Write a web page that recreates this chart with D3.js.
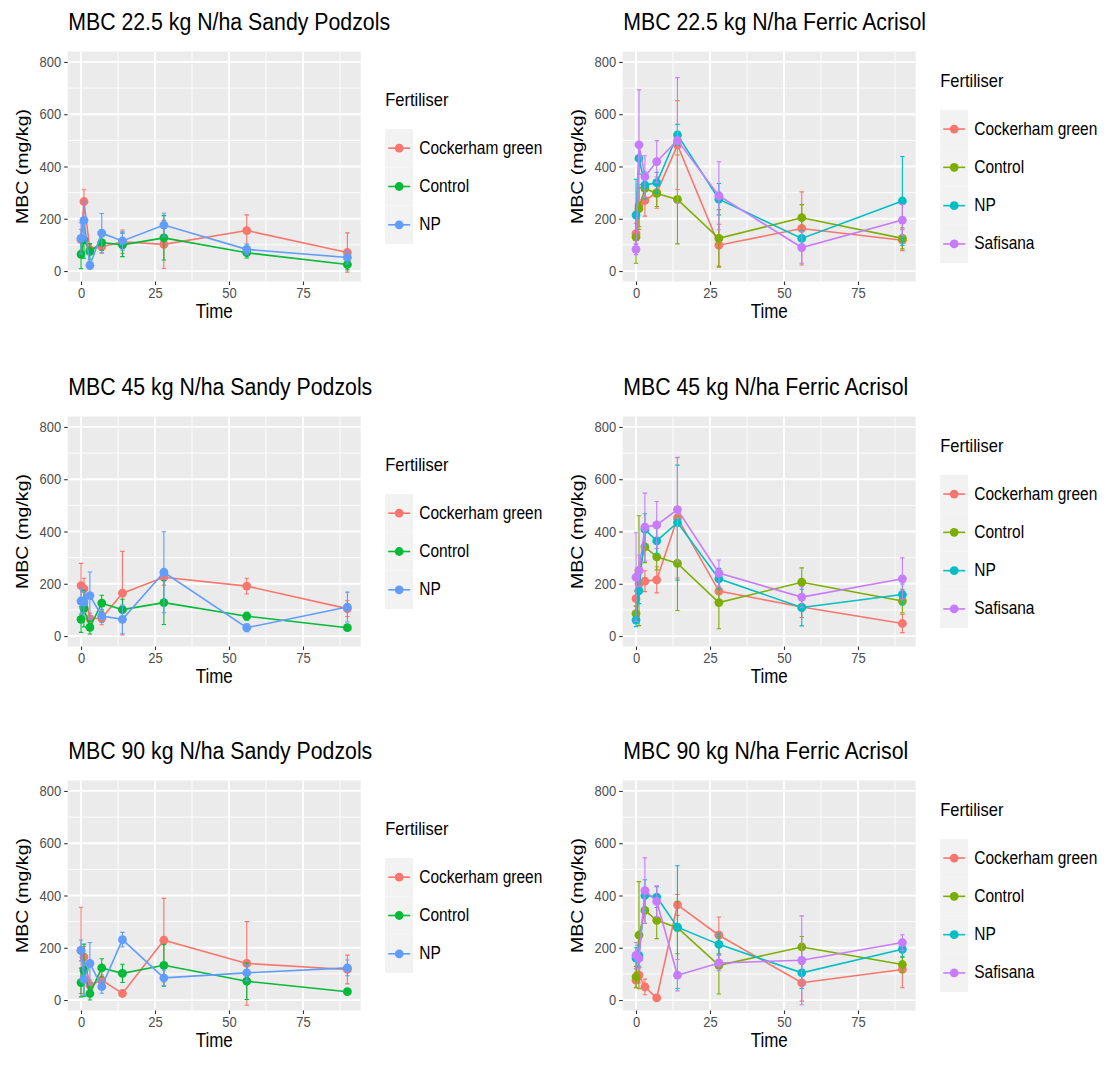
<!DOCTYPE html>
<html>
<head>
<meta charset="utf-8">
<script src="https://cdn.jsdelivr.net/npm/d3@7"></script>
<style>
  html, body { margin: 0; padding: 0; background: #ffffff; }
  svg { display: block; font-family: "Liberation Sans", Arial, sans-serif; }
</style>
</head>
<body>
<svg id="chart" width="1106" height="1075"></svg>
<script>
// Sampling days
const times = [0, 1, 3, 7, 14, 28, 56, 90];

// Fertiliser treatments per soil
const sandySeries = ["Cockerham green", "Control", "NP"];
const ferricSeries = ["Cockerham green", "Control", "NP", "Safisana"];
const sandyColours = ["#F8766D", "#00BA38", "#619CFF"];
const ferricColours = ["#F8766D", "#7CAE00", "#00BFC4", "#C77CFF"];

// Axis ticks
const yTicks = [0, 200, 400, 600, 800];
const xTicks = [0, 25, 50, 75];

// MBC means (mg/kg), one row per treatment, one value per sampling day
const sandy22Mean = [
  [120, 266, 83, 93, 112, 102, 155, 71],
  [64, 119, 75, 109, 100, 127, 70, 25],
  [125, 194, 22, 145, 115, 176, 83, 52]
];
const sandy22Err = [
  [40, 45, 20, 25, 45, 92, 60, 75],
  [55, 70, 30, 30, 45, 85, 20, 20],
  [60, 70, 15, 75, 35, 45, 20, 25]
];
const ferric22Mean = [
  [143, 250, 270, 300, 482, 99, 163, 118],
  [130, 239, 316, 297, 274, 125, 204, 125],
  [214, 431, 329, 338, 521, 275, 125, 268],
  [83, 483, 361, 419, 500, 288, 90, 195]
];
const ferric22Err = [
  [40, 80, 60, 60, 170, 80, 140, 40],
  [100, 80, 40, 50, 170, 110, 50, 40],
  [137, 60, 50, 40, 40, 60, 30, 170],
  [20, 210, 80, 80, 240, 130, 60, 60]
];
const sandy45Mean = [
  [193, 181, 67, 68, 164, 225, 191, 105],
  [64, 105, 33, 126, 101, 128, 76, 32],
  [134, 130, 155, 77, 64, 244, 32, 111]
];
const sandy45Err = [
  [85, 40, 20, 25, 160, 30, 30, 30],
  [50, 70, 25, 30, 40, 84, 15, 10],
  [50, 40, 90, 25, 55, 155, 15, 57]
];
const ferric45Mean = [
  [143, 200, 210, 215, 452, 172, 111, 48],
  [86, 250, 341, 303, 278, 128, 206, 134],
  [61, 174, 408, 364, 434, 219, 109, 159],
  [225, 250, 417, 425, 484, 241, 149, 219]
];
const ferric45Err = [
  [30, 40, 40, 50, 230, 50, 40, 35],
  [30, 210, 60, 50, 180, 100, 55, 45],
  [25, 50, 60, 50, 220, 40, 70, 40],
  [170, 60, 130, 90, 200, 50, 40, 80]
];
const sandy90Mean = [
  [190, 165, 57, 76, 25, 229, 140, 117],
  [67, 114, 25, 123, 102, 133, 72, 32],
  [190, 79, 140, 51, 231, 85, 104, 123]
];
const sandy90Err = [
  [165, 40, 20, 20, 10, 160, 160, 55],
  [55, 100, 25, 35, 35, 80, 70, 10],
  [40, 60, 80, 25, 28, 30, 30, 30]
];
const ferric90Mean = [
  [76, 95, 50, 8, 364, 248, 66, 117],
  [89, 248, 343, 305, 277, 133, 203, 136],
  [160, 170, 400, 394, 279, 213, 104, 194],
  [171, 159, 419, 377, 95, 142, 152, 220]
];
const ferric90Err = [
  [30, 30, 30, 10, 40, 70, 70, 70],
  [40, 205, 50, 70, 100, 110, 40, 30],
  [40, 40, 60, 40, 235, 40, 60, 30],
  [50, 40, 125, 60, 60, 30, 170, 30]
];

const titles = [
  "MBC 22.5 kg N/ha Sandy Podzols", "MBC 22.5 kg N/ha Ferric Acrisol",
  "MBC 45 kg N/ha Sandy Podzols", "MBC 45 kg N/ha Ferric Acrisol",
  "MBC 90 kg N/ha Sandy Podzols", "MBC 90 kg N/ha Ferric Acrisol"
];

// Panel table: row/column placement plus the data for each facet
const panels = [
  { row: 0, col: 0, title: titles[0], names: sandySeries, colours: sandyColours, mean: sandy22Mean, err: sandy22Err },
  { row: 0, col: 1, title: titles[1], names: ferricSeries, colours: ferricColours, mean: ferric22Mean, err: ferric22Err },
  { row: 1, col: 0, title: titles[2], names: sandySeries, colours: sandyColours, mean: sandy45Mean, err: sandy45Err },
  { row: 1, col: 1, title: titles[3], names: ferricSeries, colours: ferricColours, mean: ferric45Mean, err: ferric45Err },
  { row: 2, col: 0, title: titles[4], names: sandySeries, colours: sandyColours, mean: sandy90Mean, err: sandy90Err },
  { row: 2, col: 1, title: titles[5], names: ferricSeries, colours: ferricColours, mean: ferric90Mean, err: ferric90Err }
];

const svg = d3.select("#chart");
svg.append("rect").attr("width", 1106).attr("height", 1075).attr("fill", "#ffffff");

// the exported figure has slightly tall glyphs; stretch text vertically
const TALL = 1.15;

const colLeft = [67.7, 622.7];
const plotW = 293;
const rowTop = [51.5, 416.5, 780.5];
const plotH = 230;

function label(parent, x, y, str, size, anchor) {
  return parent.append("text")
    .attr("transform", `translate(${x},${y}) scale(1,${TALL})`)
    .attr("text-anchor", anchor || "start")
    .attr("fill", "#000").style("font-size", size + "px").text(str);
}

panels.forEach(p => {
  const x0 = colLeft[p.col], y0 = rowTop[p.row];
  const g = svg.append("g").attr("transform", `translate(${x0},${y0})`);

  const x = d3.scaleLinear().domain([-4.5, 94.5]).range([0, plotW]);
  const y = d3.scaleLinear().domain([-40, 840]).range([plotH, 0]);

  // panel background + grid
  g.append("rect").attr("width", plotW).attr("height", plotH).attr("fill", "#EBEBEB");
  const minorY = [100, 300, 500, 700];
  const minorX = [12.5, 37.5, 62.5, 87.5];
  g.selectAll(".gyMinor").data(minorY).join("line")
    .attr("x1", 0).attr("x2", plotW).attr("y1", d => y(d)).attr("y2", d => y(d))
    .attr("stroke", "#ffffff").attr("stroke-width", 0.9);
  g.selectAll(".gxMinor").data(minorX).join("line")
    .attr("y1", 0).attr("y2", plotH).attr("x1", d => x(d)).attr("x2", d => x(d))
    .attr("stroke", "#ffffff").attr("stroke-width", 0.9);
  g.selectAll(".gy").data(yTicks).join("line")
    .attr("x1", 0).attr("x2", plotW).attr("y1", d => y(d)).attr("y2", d => y(d))
    .attr("stroke", "#ffffff").attr("stroke-width", 1.8);
  g.selectAll(".gx").data(xTicks).join("line")
    .attr("y1", 0).attr("y2", plotH).attr("x1", d => x(d)).attr("x2", d => x(d))
    .attr("stroke", "#ffffff").attr("stroke-width", 1.8);

  // axes
  const yAxis = d3.axisLeft(y).tickValues(yTicks).tickSize(3.5).tickPadding(3);
  const xAxis = d3.axisBottom(x).tickValues(xTicks).tickSize(3.5).tickPadding(3);
  const ya = g.append("g").call(yAxis);
  const xa = g.append("g").attr("transform", `translate(0,${plotH})`).call(xAxis);
  [ya, xa].forEach(a => {
    a.select(".domain").remove();
    a.selectAll(".tick line").attr("stroke", "#333333").attr("stroke-width", 1.1);
    a.selectAll(".tick text").attr("fill", "#4D4D4D").style("font-size", "13px")
      .style("font-family", "Liberation Sans, Arial, sans-serif");
  });
  ya.selectAll(".tick text").attr("dy", null).attr("y", 0)
    .attr("transform", `translate(0,4.6) scale(1,${TALL})`);
  xa.selectAll(".tick text").attr("dy", null).attr("y", 0)
    .attr("transform", `translate(0,16) scale(1,${TALL})`);

  // series: error bars, lines, points
  p.names.forEach((name, si) => {
    const col = p.colours[si];
    const pts = times.map((t, i) => ({ t, v: p.mean[si][i], e: p.err[si][i] }));
    const sg = g.append("g");
    sg.selectAll(".eb").data(pts).join("path")
      .attr("d", d => {
        const lo = y(d.v - d.e);
        const hi = y(d.v + d.e);
        const xc = x(d.t), w = 2.2;
        return `M${xc - w},${hi}H${xc + w}M${xc},${hi}V${lo}M${xc - w},${lo}H${xc + w}`;
      })
      .attr("fill", "none").attr("stroke", col).attr("stroke-width", 1.1);
    sg.append("path").datum(pts)
      .attr("d", d3.line().x(d => x(d.t)).y(d => y(d.v)))
      .attr("fill", "none").attr("stroke", col).attr("stroke-width", 1.6);
    sg.selectAll("circle").data(pts).join("circle")
      .attr("cx", d => x(d.t)).attr("cy", d => y(d.v)).attr("r", 4.4).attr("fill", col);
  });

  // title
  label(svg, x0 + 0.5, y0 - 22, p.title, 21.3);

  // axis titles
  label(svg, x0 + plotW / 2, y0 + plotH + 36, "Time", 17, "middle");
  svg.append("text")
    .attr("transform", `translate(${x0 - 40},${y0 + plotH / 2}) rotate(-90) scale(${TALL},1)`)
    .attr("text-anchor", "middle").attr("fill", "#000").style("font-size", "17px").text("MBC (mg/kg)");

  // legend
  const n = p.names.length;
  const keyH = 38.3, keyW = 28;
  const legH = 40 + n * keyH;
  const lx = x0 + plotW + 24.5;
  const ly = y0 + plotH / 2 - legH / 2;
  const lg = svg.append("g").attr("transform", `translate(${lx},${ly})`);
  label(lg, 0, 17, "Fertiliser", 16.5);
  p.names.forEach((name, si) => {
    const ky = 40 + si * keyH;
    lg.append("rect").attr("x", 0).attr("y", ky).attr("width", keyW).attr("height", keyH)
      .attr("fill", "#F2F2F2");
    lg.append("line").attr("x1", 3).attr("x2", keyW - 3)
      .attr("y1", ky + keyH / 2).attr("y2", ky + keyH / 2)
      .attr("stroke", p.colours[si]).attr("stroke-width", 1.6);
    lg.append("circle").attr("cx", keyW / 2).attr("cy", ky + keyH / 2).attr("r", 4.4)
      .attr("fill", p.colours[si]);
    label(lg, keyW + 6, ky + keyH / 2 + 5.5, name, 15.5);
  });
});
</script>
</body>
</html>
